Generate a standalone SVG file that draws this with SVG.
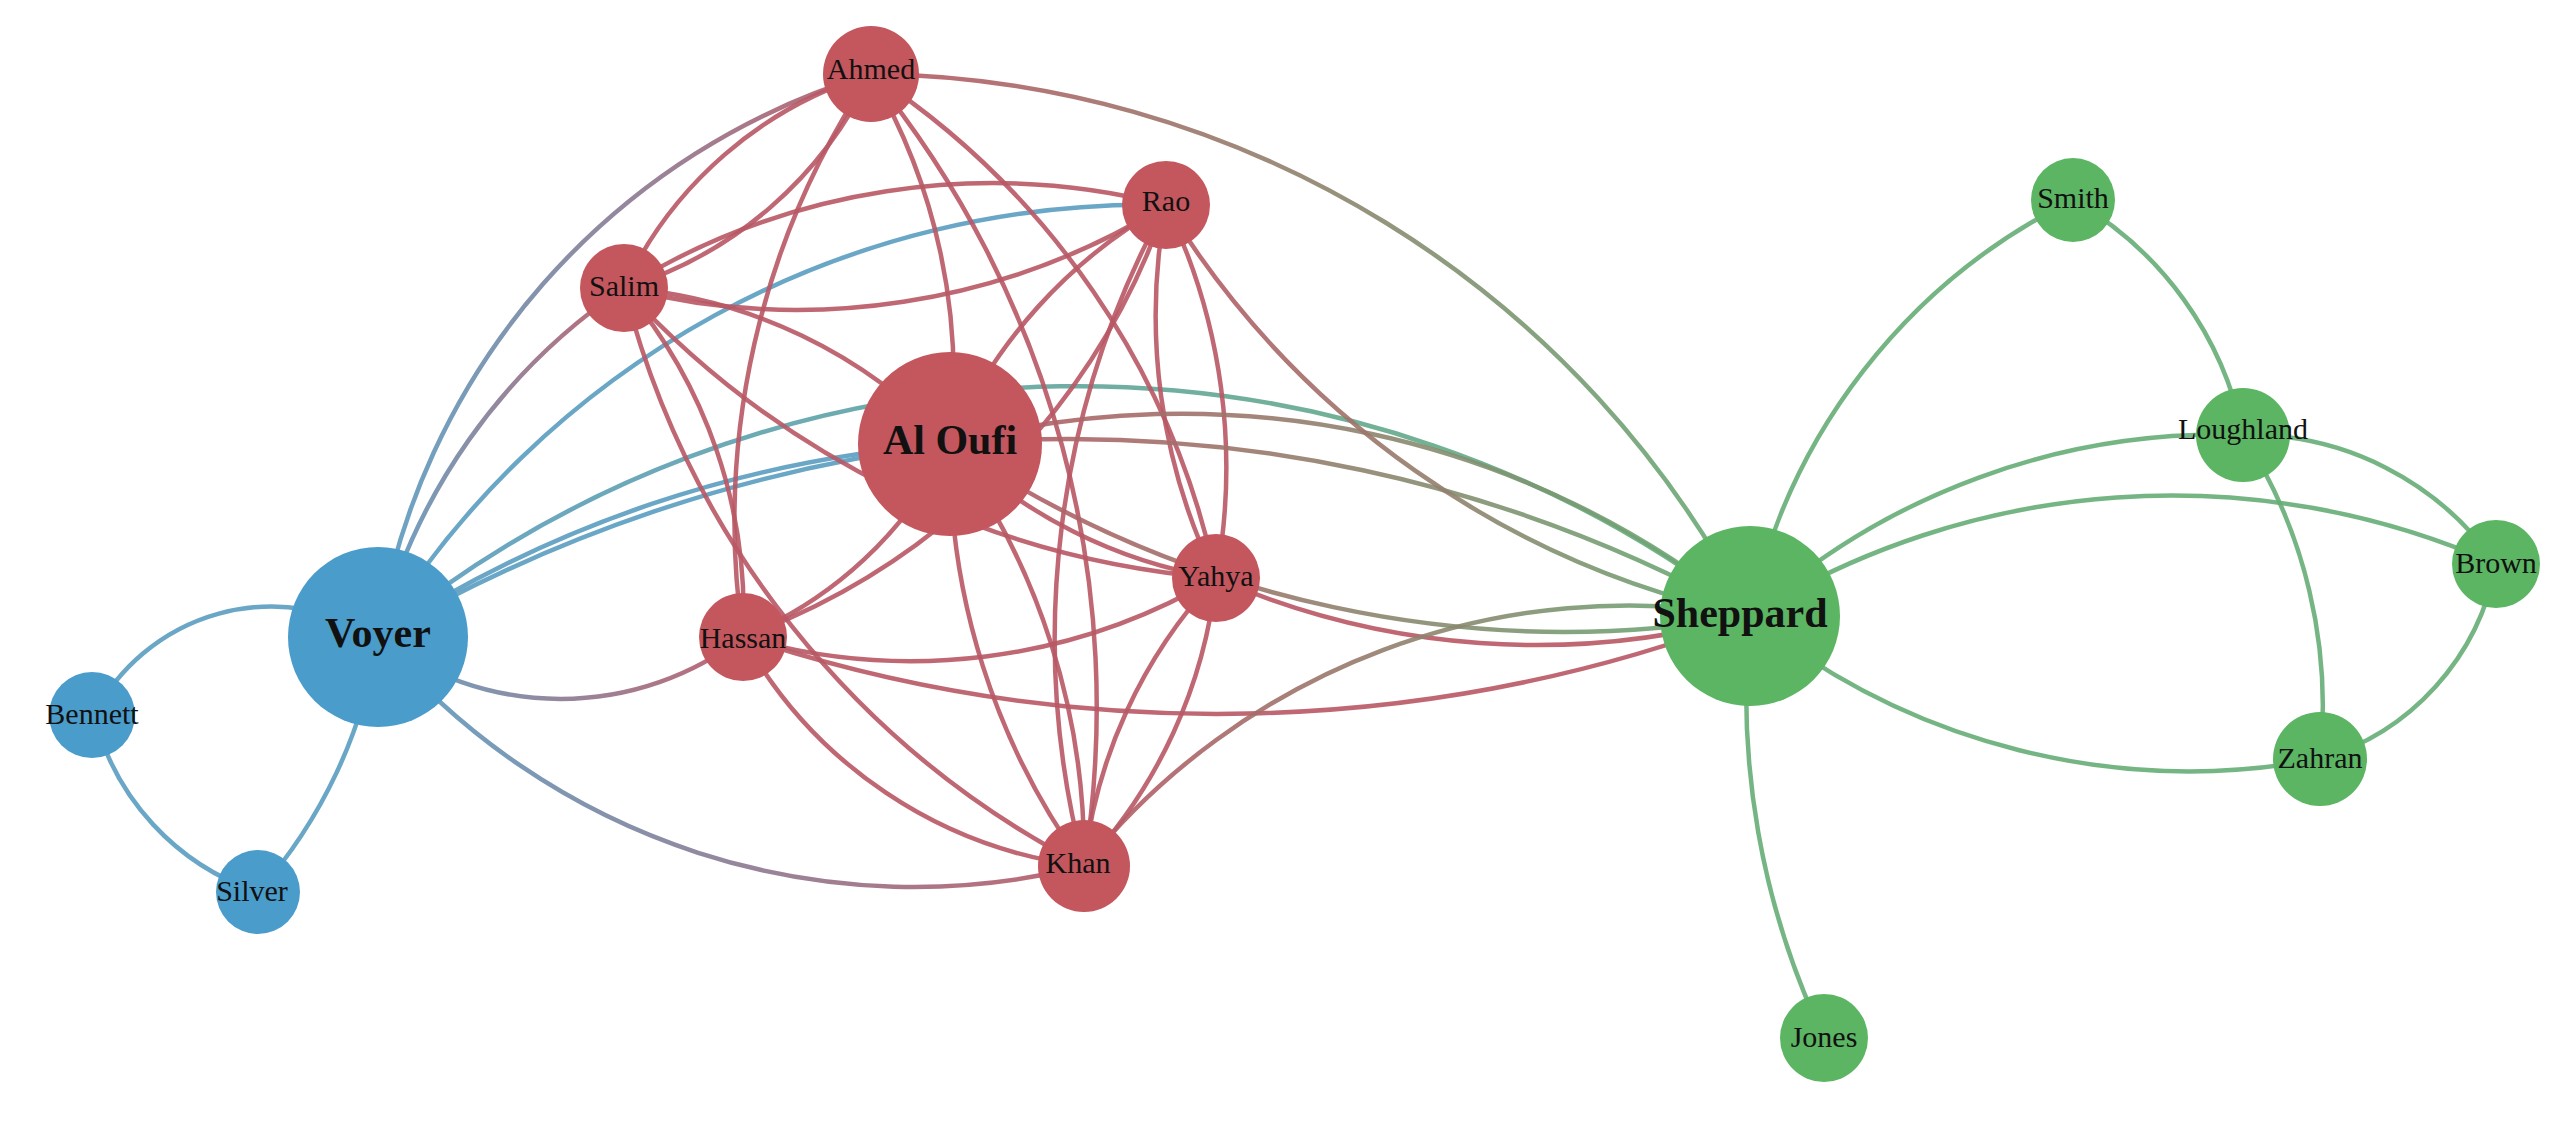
<svg xmlns="http://www.w3.org/2000/svg" width="2576" height="1121" viewBox="0 0 2576 1121">
<style>
.e{fill:none;stroke-width:4.5;stroke-opacity:.9}
.r{stroke:#b85865}.b{stroke:#5a9cc0}.g{stroke:#66ad76}
.rg{stroke:url(#rg)}.br{stroke:url(#br)}.bg{stroke:url(#bg)}
.nr{fill:#c4565e}.nb{fill:#4a9ccb}.ng{fill:#5bb562}
text{font-family:"Liberation Serif",serif;font-size:30px;fill:#111;text-anchor:middle;dominant-baseline:central}
.big{font-size:42px;font-weight:bold}
</style>
<defs>
<linearGradient id="rg" x1="0" x2="1"><stop offset="0" stop-color="#b85865"/><stop offset="1" stop-color="#66ad76"/></linearGradient>
<linearGradient id="br" x1="0" x2="1"><stop offset="0" stop-color="#5a9cc0"/><stop offset="1" stop-color="#b85865"/></linearGradient>
<linearGradient id="bg" x1="0" x2="1"><stop offset="0" stop-color="#5a9cc0"/><stop offset="1" stop-color="#66ad76"/></linearGradient>
</defs>
<rect width="2576" height="1121" fill="#fff"/>
<g id="edges">
<path class="e b" d="M94,715 A200 200 0 0 1 378,637"/>
<path class="e b" d="M94,715 A250 250 0 0 0 258,892"/>
<path class="e b" d="M378,637 A500 500 0 0 1 258,892"/>
<path class="e br" d="M378,637 A300 300 0 0 0 743,637"/>
<path class="e br" d="M378,637 A700 700 0 0 0 1084,866"/>
<path class="e br" d="M378,637 A700 700 0 0 1 871,74"/>
<path class="e br" d="M378,637 A600 600 0 0 1 624,288"/>
<path class="e b" d="M378,637 A900 900 0 0 1 1166,205"/>
<path class="e b" d="M378,637 A1200 1200 0 0 1 950,444"/>
<path class="e b" d="M378,637 A1500 1500 0 0 1 950,444"/>
<path class="e bg" d="M378,637 A1100 1100 0 0 1 1750,616"/>
<path class="e r" d="M624,288 A400 400 0 0 1 871,74"/>
<path class="e r" d="M624,288 A400 400 0 0 0 871,74"/>
<path class="e r" d="M871,74 A600 600 0 0 1 950,444"/>
<path class="e r" d="M871,74 A800 800 0 0 1 1216,578"/>
<path class="e r" d="M871,74 A800 800 0 0 0 743,637"/>
<path class="e r" d="M871,74 A1000 1000 0 0 1 1084,866"/>
<path class="e r" d="M624,288 A700 700 0 0 1 1166,205"/>
<path class="e r" d="M624,288 A700 700 0 0 0 1166,205"/>
<path class="e r" d="M1166,205 A500 500 0 0 0 950,444"/>
<path class="e r" d="M1166,205 A600 600 0 0 1 1216,578"/>
<path class="e r" d="M1166,205 A600 600 0 0 0 1216,578"/>
<path class="e r" d="M1166,205 A700 700 0 0 1 743,637"/>
<path class="e r" d="M1166,205 A900 900 0 0 0 1084,866"/>
<path class="e r" d="M624,288 A500 500 0 0 1 950,444"/>
<path class="e r" d="M624,288 A900 900 0 0 0 1216,578"/>
<path class="e r" d="M624,288 A500 500 0 0 1 743,637"/>
<path class="e r" d="M624,288 A900 900 0 0 0 1084,866"/>
<path class="e r" d="M950,444 A500 500 0 0 0 1216,578"/>
<path class="e r" d="M950,444 A400 400 0 0 1 743,637"/>
<path class="e r" d="M950,444 A700 700 0 0 1 1084,866"/>
<path class="e r" d="M950,444 A700 700 0 0 0 1084,866"/>
<path class="e r" d="M1216,578 A600 600 0 0 1 743,637"/>
<path class="e r" d="M1216,578 A500 500 0 0 1 1084,866"/>
<path class="e r" d="M1216,578 A500 500 0 0 0 1084,866"/>
<path class="e r" d="M743,637 A450 450 0 0 0 1084,866"/>
<path class="e rg" d="M871,74 A1000 1000 0 0 1 1750,616"/>
<path class="e rg" d="M950,444 A900 900 0 0 1 1750,616"/>
<path class="e rg" d="M950,444 A1400 1400 0 0 1 1750,616"/>
<path class="e rg" d="M950,444 A1100 1100 0 0 0 1750,616"/>
<path class="e rg" d="M1166,205 A900 900 0 0 0 1750,616"/>
<path class="e r" d="M1216,578 A800 800 0 0 0 1750,616"/>
<path class="e r" d="M743,637 A1500 1500 0 0 0 1750,616"/>
<path class="e rg" d="M1084,866 A700 700 0 0 1 1750,616"/>
<path class="e g" d="M1750,616 A600 600 0 0 1 2073,200"/>
<path class="e g" d="M2073,200 A350 350 0 0 1 2243,435"/>
<path class="e g" d="M1750,616 A700 700 0 0 1 2243,435"/>
<path class="e g" d="M1750,616 A800 800 0 0 1 2496,564"/>
<path class="e g" d="M1750,616 A700 700 0 0 0 2320,759"/>
<path class="e g" d="M1750,616 A800 800 0 0 0 1824,1038"/>
<path class="e g" d="M2243,435 A300 300 0 0 1 2496,564"/>
<path class="e g" d="M2243,435 A500 500 0 0 1 2320,759"/>
<path class="e g" d="M2496,564 A250 250 0 0 1 2320,759"/>
</g>
<g id="Ahmed"><circle class="nr" cx="871" cy="74" r="48"/><text x="871" y="68">Ahmed</text></g>
<g id="Rao"><circle class="nr" cx="1166" cy="205" r="44"/><text x="1166" y="200">Rao</text></g>
<g id="Salim"><circle class="nr" cx="624" cy="288" r="44"/><text x="624" y="285">Salim</text></g>
<g id="AlOufi"><circle class="nr" cx="950" cy="444" r="92"/><text class="big" x="950" y="440">Al Oufi</text></g>
<g id="Yahya"><circle class="nr" cx="1216" cy="578" r="44"/><text x="1216" y="575">Yahya</text></g>
<g id="Hassan"><circle class="nr" cx="743" cy="637" r="44"/><text x="743" y="637">Hassan</text></g>
<g id="Khan"><circle class="nr" cx="1084" cy="866" r="46"/><text x="1078" y="862">Khan</text></g>
<g id="Voyer"><circle class="nb" cx="378" cy="637" r="90"/><text class="big" x="378" y="633">Voyer</text></g>
<g id="Bennett"><circle class="nb" cx="92" cy="715" r="43"/><text x="92" y="713">Bennett</text></g>
<g id="Silver"><circle class="nb" cx="258" cy="892" r="42"/><text x="252" y="890">Silver</text></g>
<g id="Sheppard"><circle class="ng" cx="1750" cy="616" r="90"/><text class="big" x="1740" y="613">Sheppard</text></g>
<g id="Smith"><circle class="ng" cx="2073" cy="200" r="42"/><text x="2073" y="197">Smith</text></g>
<g id="Loughland"><circle class="ng" cx="2243" cy="435" r="47"/><text x="2243" y="428">Loughland</text></g>
<g id="Brown"><circle class="ng" cx="2496" cy="564" r="44"/><text x="2496" y="562">Brown</text></g>
<g id="Zahran"><circle class="ng" cx="2320" cy="759" r="47"/><text x="2320" y="757">Zahran</text></g>
<g id="Jones"><circle class="ng" cx="1824" cy="1038" r="44"/><text x="1824" y="1036">Jones</text></g>
</svg>
